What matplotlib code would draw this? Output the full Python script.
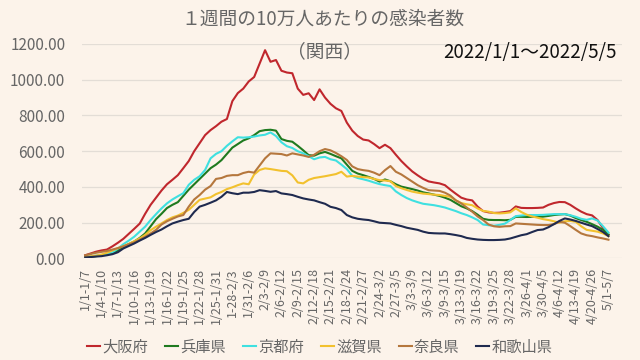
import numpy as np
import matplotlib
matplotlib.use('Agg')
import matplotlib.pyplot as plt
from matplotlib.ticker import FuncFormatter

plt.rcParams['font.family'] = ['Noto Sans CJK JP', 'DejaVu Sans']

# Tick labels (every 3rd category)
tick_labels = ["1/1-1/7", "1/4-1/10", "1/7-1/13", "1/10-1/16", "1/13-1/19", "1/16-1/22",
               "1/19-1/25", "1/22-1/28", "1/25-1/31", "1-28-2/3", "1/31-2/6", "2/3-2/9",
               "2/6-2/12", "2/9-2/15", "2/12-2/18", "2/15-2/21", "2/18-2/24", "2/21-2/27",
               "2/24-3/2", "2/27-3/5", "3/3-3/9", "3/6-3/12", "3/9-3/15", "3/13-3/19",
               "3/16-3/22", "3/19-3/25", "3/22-3/28", "3/26-4/1", "3/30-4/5", "4/6-4/12",
               "4/13-4/19", "4/20-4/26", "5/1-5/7"]

osaka = [18, 28, 38, 45, 50, 68, 88, 110, 138, 166, 195, 250, 300, 340, 380, 415, 440, 466,
         505, 545, 600, 645, 690, 718, 740, 765, 780, 880, 925, 950, 990, 1015, 1090, 1165,
         1100, 1110, 1050, 1040, 1036, 950, 915, 924, 886, 946, 900, 865, 840, 825, 760, 715,
         685, 665, 660, 640, 617, 636, 617, 580, 545, 515, 487, 465, 445, 431, 425, 420, 410,
         385, 362, 340, 330, 325, 290, 265, 258, 255, 256, 260, 265, 291, 283, 282, 282, 283,
         285, 300, 310, 316, 315, 300, 280, 262, 248, 241, 215, 170, 133]
hyogo = [6, 9, 13, 18, 23, 30, 45, 65, 80, 95, 115, 140, 180, 220, 250, 282, 300, 315, 350,
         385, 415, 445, 475, 505, 525, 550, 585, 620, 640, 660, 672, 690, 712, 718, 720, 715,
         668, 658, 653, 630, 605, 578, 575, 588, 596, 585, 572, 560, 525, 490, 475, 466, 456,
         445, 430, 442, 432, 415, 402, 395, 388, 380, 370, 364, 357, 350, 340, 328, 310, 292,
         280, 265, 245, 222, 216, 215, 215, 214, 216, 233, 233, 232, 233, 233, 234, 238, 243,
         246, 248, 240, 226, 215, 205, 192, 178, 160, 135]
kyoto = [9, 12, 16, 20, 27, 35, 55, 80, 100, 122, 150, 178, 215, 248, 280, 308, 330, 348, 365,
         412, 440, 460, 495, 560, 585, 600, 630, 655, 678, 676, 678, 682, 688, 692, 705, 685,
         650, 628, 618, 600, 588, 572, 555, 565, 568, 555, 548, 525, 500, 462, 450, 443, 435,
         425, 416, 410, 405, 375, 355, 338, 325, 315, 306, 302, 298, 292, 285, 275, 265, 253,
         243, 230, 215, 190, 186, 183, 188, 195, 215, 237, 240, 243, 243, 243, 244, 246, 248,
         248, 248, 242, 233, 222, 216, 224, 212, 180, 145]
shiga = [9, 12, 16, 22, 32, 45, 58, 69, 82, 96, 112, 132, 158, 178, 196, 215, 230, 240, 255,
         272, 300, 328, 335, 342, 360, 372, 388, 398, 410, 420, 415, 470, 495, 504, 500, 495,
         490, 488, 465, 425, 420, 440, 450, 455, 460, 466, 472, 485, 458, 462, 458, 455, 453,
         445, 438, 436, 432, 405, 393, 383, 374, 368, 363, 360, 357, 355, 350, 345, 325, 310,
         303, 298, 280, 266, 262, 254, 252, 254, 258, 280, 260, 245, 235, 228, 220, 215, 208,
         200, 208, 210, 205, 180, 160, 155, 150, 140, 125]
nara = [18, 25, 32, 37, 42, 50, 58, 68, 80, 90, 105, 121, 140, 160, 190, 208, 222, 235, 243,
        290, 330, 355, 385, 405, 445, 450, 462, 466, 466, 478, 485, 480, 520, 560, 588, 586,
        584, 576, 588, 582, 576, 568, 580, 600, 612, 605, 590, 572, 551, 515, 500, 494, 490,
        480, 466, 494, 517, 485, 470, 450, 430, 410, 395, 382, 380, 378, 368, 352, 325, 308,
        285, 262, 235, 215, 190, 180, 177, 180, 181, 196, 194, 192, 190, 188, 187, 187, 192,
        205, 200, 181, 160, 140, 130, 125, 118, 112, 105]
wakayama = [6, 8, 11, 13, 18, 24, 35, 56, 70, 84, 100, 115, 132, 148, 162, 180, 196, 206, 215,
            222, 260, 290, 300, 312, 325, 345, 372, 365, 360, 368, 368, 372, 382, 378, 373, 377,
            364, 360, 355, 345, 336, 330, 325, 315, 306, 289, 282, 271, 243, 230, 222, 218,
            215, 208, 200, 198, 196, 188, 181, 172, 166, 160, 150, 143, 141, 140, 140, 136,
            131, 125, 115, 110, 106, 104, 103, 103, 104, 106, 112, 121, 130, 136, 148, 159,
            162, 175, 192, 210, 224, 218, 210, 200, 190, 181, 165, 148, 125]

series = [("大阪府", osaka, "#c0272d"),
          ("兵庫県", hyogo, "#1f7a1f"),
          ("京都府", kyoto, "#3fe0e0"),
          ("滋賀県", shiga, "#f2c12e"),
          ("奈良県", nara, "#b5773d"),
          ("和歌山県", wakayama, "#1f2a4f")]

bg = "#fcf3ea"
fig = plt.figure(figsize=(6.4, 3.6), dpi=100, facecolor=bg)
ax = fig.add_axes([0.128, 0.282, 0.844, 0.596])
ax.set_facecolor(bg)

x = np.arange(len(osaka))
for name, vals, col in series:
    ax.plot(x, vals, color=col, lw=1.5, label=name)

ax.set_xlim(-0.6, 98.5)
ax.set_ylim(0, 1200)
ax.set_yticks(np.arange(0, 1201, 200))
ax.yaxis.set_major_formatter(FuncFormatter(lambda v, _: f"{v:.2f}"))
ax.set_xticks(np.arange(0, len(tick_labels) * 3, 3))
ax.set_xticklabels(tick_labels, rotation=90)
ax.tick_params(axis='y', length=0, pad=12, labelsize=11, labelcolor='#666666')
ax.tick_params(axis='x', length=0, pad=7, labelsize=9, labelcolor='#666666')
ax.grid(axis='y', color='#e3ddd6', lw=0.9)
ax.set_axisbelow(True)
for s in ax.spines.values():
    s.set_visible(False)

fig.text(0.505, 0.948, "１週間の10万人あたりの感染者数", ha='center', va='center',
         fontsize=13.5, color='#666666')
fig.text(0.507, 0.855, "（関西）", ha='center', va='center', fontsize=13.5, color='#666666')
fig.text(0.828, 0.855, "2022/1/1～2022/5/5", ha='center', va='center', fontsize=13.5, color='#111111')

leg = fig.legend(loc='center', bbox_to_anchor=(0.5, 0.036), ncol=6, frameon=False,
                 fontsize=11, handlelength=0.85, handletextpad=0.15, columnspacing=1.1,
                 labelcolor='#666666')

fig.savefig('out.png', dpi=100, facecolor=bg)
